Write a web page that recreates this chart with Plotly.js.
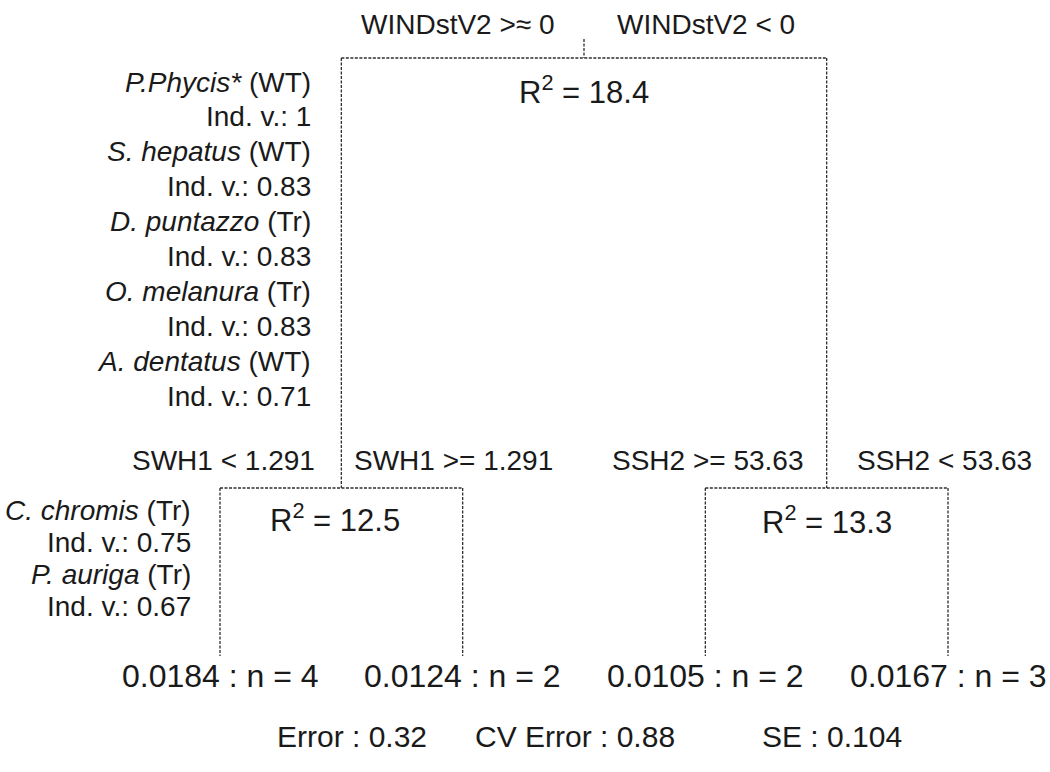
<!DOCTYPE html>
<html>
<head>
<meta charset="utf-8">
<script src="https://cdn.plot.ly/plotly-3.0.1.min.js"></script>
<style>
  html, body { margin: 0; padding: 0; background: #ffffff; }
  #tree { width: 1050px; height: 772px; }
</style>
</head>
<body>
<div id="tree"></div>
<script>
// ---- Regression tree: splits (root, left child, right child) ----
const splitLeftRules  = ['WINDstV2 >≈ 0', 'SWH1 < 1.291', 'SSH2 >= 53.63'];
const splitRightRules = ['WINDstV2 < 0', 'SWH1 >= 1.291', 'SSH2 < 53.63'];
const splitR2 = [18.4, 12.5, 13.3];

// ---- Terminal nodes, left to right ----
const leafMeans = [0.0184, 0.0124, 0.0105, 0.0167];
const leafN = [4, 2, 2, 3];

// ---- Indicator species of the left branch of the root ----
const branchSpecies = ['P.Phycis*', 'S. hepatus', 'D. puntazzo', 'O. melanura', 'A. dentatus'];
const branchGroups = ['WT', 'WT', 'Tr', 'Tr', 'WT'];
const branchIndVal = [1, 0.83, 0.83, 0.83, 0.71];

// ---- Indicator species of the first leaf ----
const leafSpecies = ['C. chromis', 'P. auriga'];
const leafGroups = ['Tr', 'Tr'];
const leafIndVal = [0.75, 0.67];

// ---- Tree fit summary ----
const statNames = ['Error', 'CV Error', 'SE'];
const statValues = [0.32, 0.88, 0.104];

// ---- Layout of the dendrogram ----
// x: leaf index (0..3), internal nodes sit at the mean of their children
// y: screen-like vertical scale (top = 0)
const FONT = 'Liberation Sans, Arial, Helvetica, sans-serif';
const INK = '#1a1a1a';
const LEVEL = { stemTop: 39, root: 58, child: 488, leaf: 656 };

const leafX = leafMeans.map((_, i) => i);
const leftSplitX = (leafX[0] + leafX[1]) / 2;
const rightSplitX = (leafX[2] + leafX[3]) / 2;
const rootX = (leftSplitX + rightSplitX) / 2;
const splitX = [rootX, leftSplitX, rightSplitX];

// segments of the tree
const xs = [], ys = [];
function seg(x0, y0, x1, y1) { xs.push(x0, x1, null); ys.push(y0, y1, null); }
seg(rootX, LEVEL.stemTop, rootX, LEVEL.root);
seg(leftSplitX, LEVEL.root, rightSplitX, LEVEL.root);
seg(leftSplitX, LEVEL.root, leftSplitX, LEVEL.child);
seg(rightSplitX, LEVEL.root, rightSplitX, LEVEL.child);
seg(leafX[0], LEVEL.child, leafX[1], LEVEL.child);
seg(leafX[2], LEVEL.child, leafX[3], LEVEL.child);
leafX.forEach(x => seg(x, LEVEL.child, x, LEVEL.leaf));

const trace = {
  type: 'scatter', mode: 'lines', x: xs, y: ys,
  line: { color: '#2e2e2e', width: 1.3, dash: '3px,1.5px' },
  hoverinfo: 'skip', showlegend: false
};

const ann = [];
function txt(x, y, text, size, anchor, xshift, xref) {
  ann.push({
    x: x, y: y, xref: xref || 'x', yref: 'y', text: text, showarrow: false,
    xanchor: anchor, yanchor: 'middle', xshift: xshift || 0,
    font: { family: FONT, size: size, color: INK }
  });
}

// split rule labels: y of the row and pixel gaps from the split line
const ruleRowY = [24, 460, 460];
const ruleGap = [[27, 31], [24, 11], [22, 28]];
splitX.forEach((x, k) => {
  txt(x, ruleRowY[k], splitLeftRules[k], 28, 'right', -ruleGap[k][0]);
  txt(x, ruleRowY[k], splitRightRules[k], 28, 'left', ruleGap[k][1]);
});

// R² of each split
const R2_SIZE = 31;
const sized = s => '<span style="font-size:' + R2_SIZE + 'px">' + s + '</span>';
const r2RowY = [90, 518, 520];
const r2Shift = [0, -6, 0];
splitX.forEach((x, k) => {
  txt(x, r2RowY[k], sized('R') + '<sup>2</sup>' + sized(' = ' + splitR2[k].toFixed(1)), R2_SIZE, 'center', r2Shift[k]);
});

// leaf summaries
leafX.forEach((x, i) => {
  txt(x, 676, leafMeans[i].toFixed(4) + ' : n = ' + leafN[i], 32, 'center', 0);
});

// indicator species lists, right-aligned left of their branch line
branchSpecies.forEach((s, i) => {
  txt(leftSplitX, 82 + 2 * i * 34.9, '<i>' + s + '</i> (' + branchGroups[i] + ')', 28, 'right', -28);
  txt(leftSplitX, 82 + (2 * i + 1) * 34.9, 'Ind. v.: ' + branchIndVal[i], 28, 'right', -28);
});
leafSpecies.forEach((s, i) => {
  txt(leafX[0], 510 + 2 * i * 32.3, '<i>' + s + '</i> (' + leafGroups[i] + ')', 28, 'right', -27);
  txt(leafX[0], 510 + (2 * i + 1) * 32.3, 'Ind. v.: ' + leafIndVal[i], 28, 'right', -27);
});

// fit summary row
const statLeft = [275, 473, 760];
statNames.forEach((n, i) => {
  txt(statLeft[i] / 1050, 736, n + ' : ' + statValues[i], 30, 'left', 0, 'paper');
});

const W = 1050, H = 772;
const xMin = -0.9066, xMax = 3.4203;

Plotly.newPlot('tree', [trace], {
  width: W, height: H,
  margin: { l: 0, r: 0, t: 0, b: 0 },
  paper_bgcolor: '#ffffff', plot_bgcolor: '#ffffff',
  xaxis: { range: [xMin, xMax], visible: false, fixedrange: true },
  yaxis: { range: [H, 0], visible: false, fixedrange: true },
  annotations: ann,
  showlegend: false
}, { staticPlot: true });
</script>
</body>
</html>
